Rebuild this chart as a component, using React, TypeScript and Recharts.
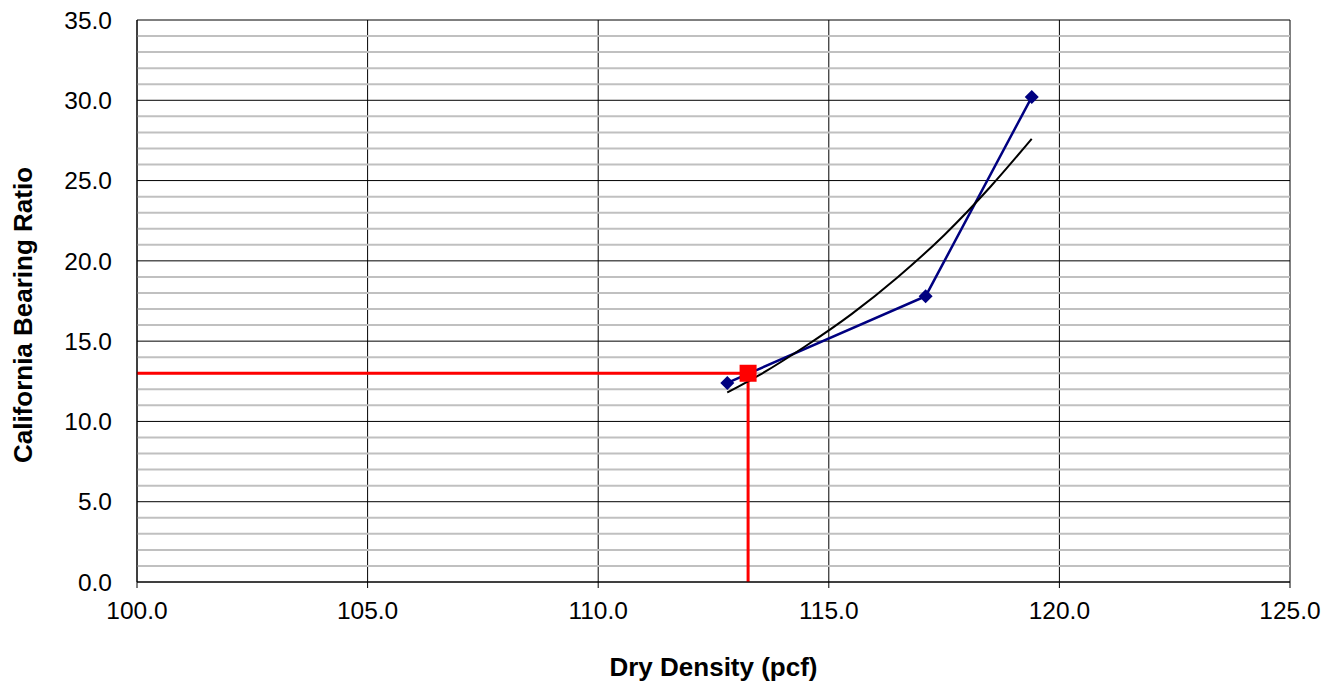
import { CartesianGrid, ComposedChart, Label, Line, ReferenceLine, Scatter, XAxis, YAxis } from 'recharts'

// test points
const densities = [112.8, 117.1, 119.4]
const cbrValues = [12.4, 17.8, 30.2]

// exponential trend curve, read at a few densities
const trendDensities = [112.8, 113.5, 114.5, 115.5, 116.5, 117.5, 118.5, 119.4]
const trendCbr = [11.8, 12.9, 14.7, 16.7, 19.0, 21.6, 24.6, 27.6]

// design point (marked in red)
const designDensity = [113.25]
const designCbr = [13.0]

const xTicks = [100, 105, 110, 115, 120, 125]
const yTicks = [0, 5, 10, 15, 20, 25, 30, 35]
// minor gridlines every 1.0, majors are drawn by the grid
const yMinor = Array.from({ length: 36 }, (_, i) => i).filter((v) => v % 5 !== 0)

const testData = densities.map((x, i) => ({ x, y: cbrValues[i] }))
const trendData = trendDensities.map((x, i) => ({ x, y: trendCbr[i] }))
const designData = designDensity.map((x, i) => ({ x, y: designCbr[i] }))

const FONT = '"Liberation Sans", Arial, sans-serif'

function Diamond(props: any) {
  const { cx, cy } = props
  if (cx == null || cy == null) return null
  const r = 7
  return <polygon points={`${cx},${cy - r} ${cx + r},${cy} ${cx},${cy + r} ${cx - r},${cy}`} fill="#000080" />
}

function RedSquare(props: any) {
  const { cx, cy } = props
  if (cx == null || cy == null) return null
  const s = 17
  return <rect x={cx - s / 2} y={cy - s / 2} width={s} height={s} fill="#ff0000" />
}

export default function App() {
  return (
    <div style={{ position: 'absolute', left: 0, top: 0 }}>
      <ComposedChart
        width={1340}
        height={685}
        margin={{ top: 20, right: 50, bottom: 0, left: 0 }}
        style={{ fontFamily: FONT }}
      >
        {yMinor.map((v) => (
          <ReferenceLine key={v} y={v} stroke="#c0c0c0" strokeWidth={2} />
        ))}
        <CartesianGrid stroke="#000000" strokeWidth={1} />
        <XAxis
          type="number"
          dataKey="x"
          domain={[100, 125]}
          ticks={xTicks}
          interval={0}
          allowDataOverflow
          tickFormatter={(v: number) => v.toFixed(1)}
          height={103}
          tickSize={6}
          tickMargin={14}
          stroke="#000000"
          tick={{ fill: '#000000', fontSize: 24.5 }}
        >
          <Label
            value="Dry Density (pcf)"
            position="insideBottom"
            offset={9}
            style={{ fontWeight: 'bold', fontSize: 26, fill: '#000000' }}
          />
        </XAxis>
        <YAxis
          type="number"
          dataKey="y"
          domain={[0, 35]}
          ticks={yTicks}
          interval={0}
          allowDataOverflow
          tickFormatter={(v: number) => v.toFixed(1)}
          width={137}
          tickSize={0}
          tickMargin={25}
          stroke="#000000"
          tick={{ fill: '#000000', fontSize: 24.5 }}
        >
          <Label
            content={({ viewBox }: any) => (
              <text
                x={23}
                y={viewBox.y + viewBox.height / 2 + 14}
                transform={`rotate(-90, 23, ${viewBox.y + viewBox.height / 2 + 14})`}
                textAnchor="middle"
                dominantBaseline="central"
                style={{ fontWeight: 'bold', fontSize: 26, fill: '#000000', fontFamily: FONT }}
              >
                California Bearing Ratio
              </text>
            )}
          />
        </YAxis>
        <ReferenceLine
          segment={[{ x: 100, y: designCbr[0] }, { x: designDensity[0], y: designCbr[0] }]}
          stroke="#ff0000"
          strokeWidth={3}
        />
        <ReferenceLine
          segment={[{ x: designDensity[0], y: 0 }, { x: designDensity[0], y: designCbr[0] }]}
          stroke="#ff0000"
          strokeWidth={3}
        />
        <Line
          data={testData}
          dataKey="y"
          stroke="#000080"
          strokeWidth={2.5}
          dot={<Diamond />}
          activeDot={false}
          isAnimationActive={false}
        />
        <Scatter data={designData} dataKey="y" shape={<RedSquare />} isAnimationActive={false} />
        <Line
          data={trendData}
          dataKey="y"
          type="monotone"
          stroke="#000000"
          strokeWidth={2}
          dot={false}
          activeDot={false}
          isAnimationActive={false}
        />
      </ComposedChart>
    </div>
  )
}
